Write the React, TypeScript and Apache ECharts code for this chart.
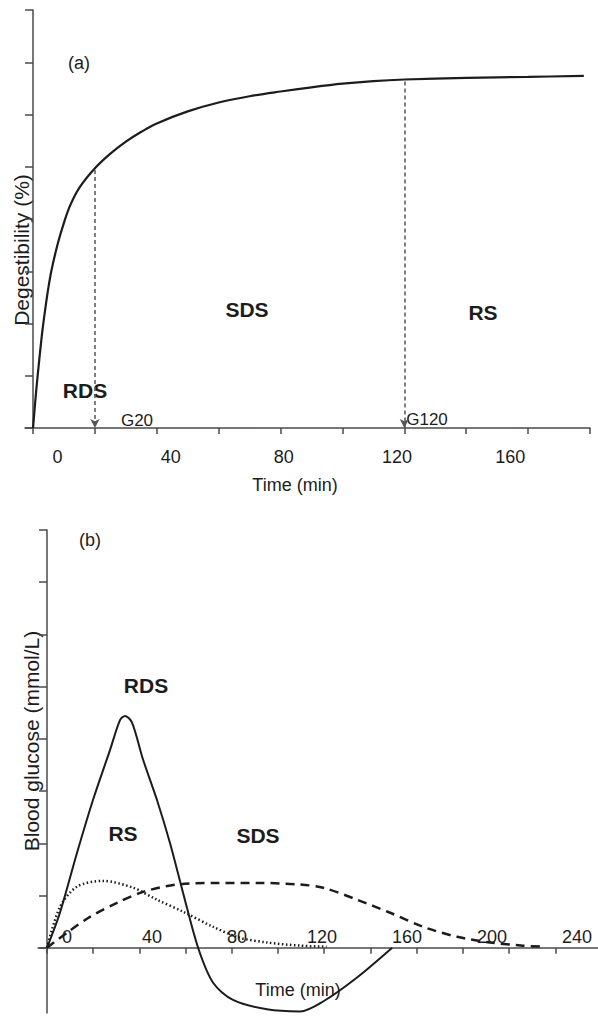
import React, { useEffect, useRef } from "react";
import * as echarts from "echarts";

const FONT = '"Liberation Sans", Arial, Helvetica, sans-serif';
const INK = "#1c1c1c";
const AXIS = "#4a4a4a";

// Panel (a): digestibility curve
const panelATime = [0, 1, 2, 3, 4, 5, 6, 8, 10, 12, 15, 20, 25, 30, 35, 40, 50, 60, 70, 80, 90, 100, 110, 120, 140, 160, 178];
const panelADigest = [0, 7, 13, 18.5, 23, 27, 30.3, 35.3, 39.3, 42.6, 46.0, 49.7, 52.5, 54.8, 56.7, 58.3, 60.6, 62.3, 63.5, 64.4, 65.2, 65.9, 66.4, 66.7, 67.0, 67.2, 67.4];
const panelATicks = [0, 20, 40, 60, 80, 100, 120, 140, 160, 180];
const panelATickLabels = [0, 40, 80, 120, 160];
const markerTimes = [20, 120];
const markerValues = [49.4, 66.3];
const markerNames = ["G20", "G120"];

// Panel (b): blood glucose responses
const rdsTime = [0, 5.6, 13, 19.9, 27.3, 31.6, 33.8, 36.8, 41.6, 47.6, 53.2, 58.9, 65.4, 71.9, 80.5, 95.2, 109.5, 119.5, 134.2, 149.4];
const rdsGlucose = [0, 0.67, 1.82, 2.83, 3.79, 4.36, 4.44, 4.31, 3.6, 2.83, 2.01, 1.05, 0, -0.67, -1.0, -1.18, -1.22, -1.03, -0.57, 0];
const rsTime = [0, 5.6, 13, 24.2, 37.2, 47.6, 58.9, 71.9, 83.5, 95.2, 109.5, 121];
const rsGlucose = [0, 0.78, 1.17, 1.28, 1.15, 0.92, 0.69, 0.4, 0.19, 0.1, 0.04, 0.02];
const sdsTime = [0, 8.7, 18.6, 30.3, 41.6, 56.3, 73.6, 92.2, 109.5, 119.5, 134.2, 148.5, 162.8, 177.5, 191.8, 206, 214.7];
const sdsGlucose = [0, 0.29, 0.59, 0.86, 1.07, 1.21, 1.24, 1.24, 1.21, 1.15, 0.92, 0.67, 0.4, 0.21, 0.1, 0.04, 0.02];
const panelBTicks = [0, 20, 40, 60, 80, 100, 120, 140, 160, 180, 200, 220, 240];
const panelBTickLabels = [0, 40, 80, 120, 160, 200, 240];
const panelBYTicks = [0, 1, 2, 3, 4, 5, 6, 7, 8];

const zip = (a: number[], b: number[]) => a.map((v, i) => [v, b[i]]);

function txt(text: string, x: number, y: number, size: number, bold = false, rotate = 0) {
  return {
    type: "text",
    x,
    y,
    rotation: rotate,
    silent: true,
    style: {
      text,
      fill: INK,
      font: `${bold ? "bold " : ""}${size}px ${FONT}`,
      textAlign: "center",
      textVerticalAlign: "middle",
    },
  };
}

export default function App() {
  const ref = useRef<HTMLDivElement>(null);
  useEffect(() => {
    if (!ref.current) return;
    const chart = echarts.init(ref.current, null, { renderer: "svg" });
    const axisLine = { show: true, lineStyle: { color: AXIS, width: 1.5 } };
    const hiddenY = (gridIndex: number) => ({
      gridIndex, type: "value", min: 0, max: 1, show: false,
      axisLine: { show: false }, axisTick: { show: false }, axisLabel: { show: false }, splitLine: { show: false },
    });
    const option: any = {
      animation: false,
      backgroundColor: "#ffffff",
      textStyle: { fontFamily: FONT },
      grid: [
        { left: 25, right: 8, top: 10, height: 418 },
        { left: 38, right: 0, top: 530, height: 483 },
        { left: 38, right: 0, top: 530, height: 418 },
      ],
      xAxis: [
        {
          gridIndex: 0, type: "value", min: -2.6, max: 180, position: "bottom",
          axisLine,
          axisTick: { show: true, customValues: panelATicks, length: 6, lineStyle: { color: AXIS, width: 1.5 } },
          axisLabel: { show: false },
          splitLine: { show: false },
        },
        {
          gridIndex: 0, type: "value", min: -11.5, max: 188.2, position: "bottom",
          axisLine: { show: false }, axisTick: { show: false }, splitLine: { show: false },
          axisLabel: { show: true, customValues: panelATickLabels, fontSize: 18, color: INK, margin: 20, fontFamily: FONT },
        },
        {
          gridIndex: 1, type: "value", min: -3.9, max: 238.5, position: "bottom",
          axisLine: { ...axisLine, onZero: true },
          axisTick: { show: true, customValues: panelBTicks, length: 6, lineStyle: { color: AXIS, width: 1.5 } },
          axisLabel: { show: false },
          splitLine: { show: false },
        },
        {
          gridIndex: 2, type: "value", min: -13.6, max: 249.9, position: "bottom",
          axisLine: { show: false, onZero: false }, axisTick: { show: false }, splitLine: { show: false },
          axisLabel: { show: true, inside: true, customValues: panelBTickLabels, fontSize: 18, color: INK, margin: 2, fontFamily: FONT },
        },
      ],
      yAxis: [
        {
          gridIndex: 0, type: "value", min: 0, max: 80, interval: 10,
          axisLine: { ...axisLine, onZero: true, onZeroAxisIndex: 0 },
          axisTick: { show: true, length: 8, lineStyle: { color: AXIS, width: 1.5 } },
          axisLabel: { show: false }, splitLine: { show: false },
        },
        {
          gridIndex: 1, type: "value", min: -1.25, max: 8,
          axisLine: { ...axisLine, onZero: true, onZeroAxisIndex: 2 },
          axisTick: { show: true, customValues: panelBYTicks, length: 8, lineStyle: { color: AXIS, width: 1.5 } },
          axisLabel: { show: false }, splitLine: { show: false },
        },
        hiddenY(2),
      ],
      series: [
        {
          type: "line", xAxisIndex: 0, yAxisIndex: 0,
          data: zip(panelATime, panelADigest),
          smooth: 0.35, showSymbol: false, symbol: "none",
          lineStyle: { color: INK, width: 2.2 },
          markLine: {
            silent: true,
            symbol: ["none", "arrow"],
            symbolSize: [7, 9],
            label: { show: false },
            lineStyle: { color: "#555", width: 1.5, type: [4, 3] },
            data: markerTimes.map((t, i) => [{ coord: [t, markerValues[i]] }, { coord: [t, 0] }]),
          },
        },
        {
          type: "line", xAxisIndex: 2, yAxisIndex: 1, name: "RDS",
          data: zip(rdsTime, rdsGlucose),
          smooth: 0.3, showSymbol: false, symbol: "none",
          lineStyle: { color: INK, width: 2 },
        },
        {
          type: "line", xAxisIndex: 2, yAxisIndex: 1, name: "RS",
          data: zip(rsTime, rsGlucose),
          smooth: 0.3, showSymbol: false, symbol: "none",
          lineStyle: { color: INK, width: 2.5, type: [1.5, 2.5] },
        },
        {
          type: "line", xAxisIndex: 2, yAxisIndex: 1, name: "SDS",
          data: zip(sdsTime, sdsGlucose),
          smooth: 0.3, showSymbol: false, symbol: "none",
          lineStyle: { color: INK, width: 2.5, type: [9, 6] },
        },
      ],
      graphic: [
        txt("(a)", 79, 63, 18),
        txt("RDS", 85, 390, 21, true),
        txt("SDS", 247, 309, 21, true),
        txt("RS", 483, 312, 21, true),
        txt(markerNames[0], 137, 420, 17),
        txt(markerNames[1], 427, 419, 17),
        txt("Degestibility (%)", 21, 250, 21, false, Math.PI / 2),
        txt("Time (min)", 295, 485, 18),
        txt("(b)", 90, 540, 18),
        txt("RDS", 146, 685, 21, true),
        txt("RS", 123, 833, 21, true),
        txt("SDS", 258, 835, 21, true),
        txt("Blood glucose (mmol/L)", 31, 741, 21, false, Math.PI / 2),
        txt("Time (min)", 298, 990, 18),
      ],
    };
    chart.setOption(option);
    return () => chart.dispose();
  }, []);
  return (
    <div
      ref={ref}
      style={{ position: "absolute", left: 0, top: 0, width: 598, height: 1016, background: "#fff" }}
    />
  );
}
